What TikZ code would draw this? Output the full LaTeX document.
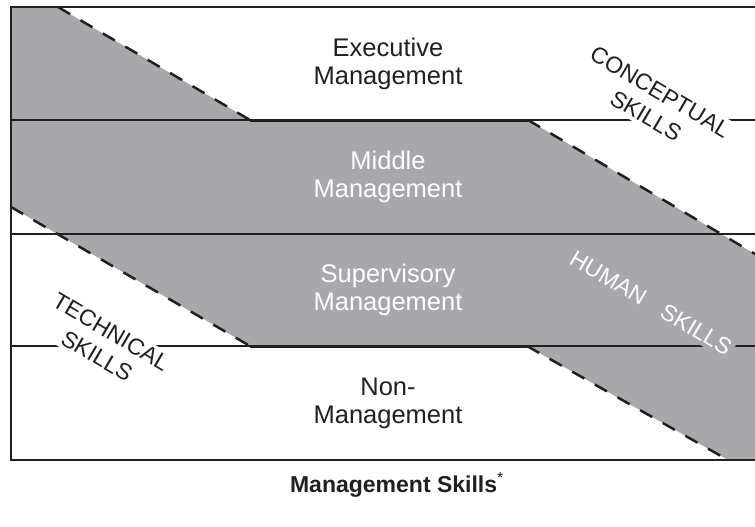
\documentclass[tikz,border=0pt]{standalone}
\usepackage{fontspec}
\setmainfont{Liberation Sans}
\usetikzlibrary{positioning}
\definecolor{SkillGray}{HTML}{A7A8AC}
\definecolor{SkillInk}{HTML}{231F20}
\tikzset{
    % Text styles
    level label/.style={
        align=center,
        text=SkillInk,
        font=\fontsize{25.5}{28}\selectfont
    },
    level label light/.style={
        level label,
        text=white
    },
    skill label/.style={
        align=center,
        rotate=-30.5,
        inner sep=3pt,
        text=SkillInk,
        font=\fontsize{23}{28}\selectfont
    },
    caption label/.style={
        text=SkillInk,
        font=\fontsize{23}{26}\selectfont\bfseries
    },
    % Line styles
    frame line/.style={
        draw=SkillInk,
        line width=1.5pt
    },
    level line/.style={
        draw=SkillInk,
        line width=1.2pt
    },
    band base/.style={
        draw=SkillInk,
        line width=3pt
    },
    band edge/.style={
        draw=SkillInk,
        line width=2.5pt,
        dash pattern=on 14pt off 12pt
    }
}
\begin{document}
\begin{tikzpicture}[x=1pt, y=-1pt]
    \useasboundingbox (0,0) rectangle (755,527);

    % Corners of the shaded band
    \coordinate (top start) at (58,7);
    \coordinate (upper left) at (250,120);
    \coordinate (upper right) at (528,120);
    \coordinate (right top) at (755,254);
    \coordinate (left low) at (11,207);
    \coordinate (lower left) at (250,346);
    \coordinate (lower right) at (527,346);
    \coordinate (bottom end) at (728,460);

    % Shaded band
    \fill[SkillGray] (11,7) -- (top start) -- (upper left) -- (upper right) -- (right top)
        -- (755,460) -- (bottom end) -- (lower right) -- (lower left) -- (left low) -- cycle;

    % Level divisions
    \draw[level line] (11,120) -- (755,120);
    \draw[level line] (11,234) -- (755,234);
    \draw[level line] (11,346) -- (755,346);

    % Band edges
    \draw[band base] (upper left) -- (upper right);
    \draw[band base] (lower left) -- (lower right);
    \draw[band edge] (top start) -- (upper left);
    \draw[band edge] (upper right) -- (right top);
    \draw[band edge] (left low) -- (lower left);
    \draw[band edge] (lower right) -- (bottom end);

    % Frame
    \draw[frame line] (755,7) -- (11,7) -- (11,460) -- (755,460);

    % Management levels
    \node[level label] (executive) at (388,64) {Executive\\Management};
    \node[level label light] (middle) at (388,177) {Middle\\Management};
    \node[level label light] (supervisory) at (388,290) {Supervisory\\Management};
    \node[level label] (nonmgmt) at (388,403) {Non-\\Management};

    % Skill labels
    \node[skill label, fill=white] (conceptual) at (653,104) {CONCEPTUAL\\SKILLS};
    \node[skill label, fill=white] (technical) at (104,344) {TECHNICAL\\SKILLS};
    \node[skill label, fill=SkillGray, text=white] (human) at (651,303) {HUMAN\hspace{0.9em}SKILLS};

    % Caption
    \node[caption label] (caption) at (397,485) {Management Skills\textsuperscript{\mdseries*}};
\end{tikzpicture}
\end{document}
